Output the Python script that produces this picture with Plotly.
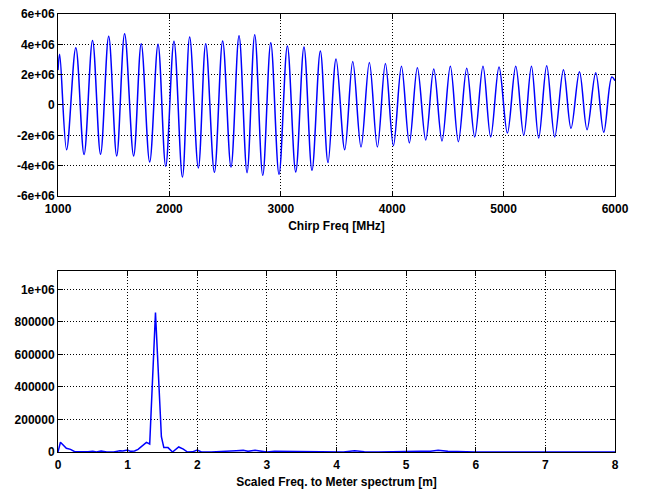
import plotly.graph_objects as go

# top panel: extrema (MHz, amplitude)
chirp_freq = [1000, 1015, 1077, 1160, 1234, 1310, 1382, 1455, 1527, 1598,
              1679, 1747, 1823, 1898, 1967, 2041, 2117, 2182, 2260, 2326,
              2404, 2478, 2553, 2625, 2697, 2766, 2838, 2910, 2984, 3059,
              3134, 3208, 3280, 3355, 3424, 3496, 3574, 3646, 3720, 3795,
              3867, 3939, 4011, 4083, 4154, 4226, 4301, 4373, 4447, 4522,
              4594, 4669, 4741, 4815, 4884, 4959, 5034, 5109, 5181, 5250,
              5315, 5387, 5459, 5537, 5605, 5681, 5749, 5827, 5899, 5971,
              6000]
chirp_amp = [2.3e6, 3.34e6, -2.95e6, 3.78e6, -3.27e6, 4.26e6, -3.25e6, 4.53e6, -3.36e6, 4.70e6,
             -3.36e6, 4.04e6, -3.76e6, 4.0e6, -4.04e6, 4.2e6, -4.75e6, 4.48e6, -4.15e6, 4.04e6,
             -4.44e6, 4.22e6, -4.09e6, 4.57e6, -4.46e6, 4.64e6, -4.64e6, 4.11e6, -4.57e6, 3.89e6,
             -4.42e6, 3.82e6, -4.31e6, 3.56e6, -3.80e6, 3.03e6, -2.95e6, 2.86e6, -2.77e6, 2.81e6,
             -2.77e6, 2.73e6, -2.68e6, 2.55e6, -2.5e6, 2.46e6, -2.31e6, 2.37e6, -2.37e6, 2.55e6,
             -2.42e6, 2.42e6, -2.11e6, 2.55e6, -2.11e6, 2.51e6, -1.85e6, 2.55e6, -2.0e6, 2.55e6,
             -2.18e6, 2.59e6, -2.11e6, 2.33e6, -1.54e6, 2.2e6, -1.63e6, 2.13e6, -1.8e6, 1.85e6,
             1.6e6]

# bottom panel: spectrum (m, magnitude)
range_m = [0, 0.035, 0.12, 0.18, 0.24, 0.34, 0.43, 0.50, 0.55, 0.62,
           0.70, 0.80, 0.89, 0.93, 1.0, 1.04, 1.10, 1.15, 1.21, 1.27,
           1.317, 1.40, 1.485, 1.52, 1.58, 1.645, 1.734, 1.80, 1.86, 1.93,
           2.0, 2.06, 2.2, 2.35, 2.47, 2.56, 2.66, 2.73, 2.83, 2.90,
           3.0, 3.11, 3.21, 3.27, 3.5, 4.1, 4.26, 4.4, 4.6, 5.0,
           5.2, 5.35, 5.46, 5.6, 5.8, 6.0, 8.0]
spectrum = [0, 60000, 23000, 16000, 2000, 0, 2000, 5000, 0, 6000,
            0, 0, 8000, 6000, 12000, 4000, 6000, 16000, 37000, 59000,
            49000, 857000, 94000, 27000, 27000, 0, 31000, 18000, 0, 1000,
            12000, 0, 0, 4000, 10000, 8000, 10000, 4000, 10000, 4000,
            0, 4000, 4000, 0, 0, 0, 8000, 2000, 0, 0,
            4000, 5000, 10000, 4000, 2000, 0, 0]

top_yticks = [-6e6, -4e6, -2e6, 0, 2e6, 4e6, 6e6]
top_ylabels = ["-6e+06", "-4e+06", "-2e+06", "0", "2e+06", "4e+06", "6e+06"]
bot_yticks = [0, 200000, 400000, 600000, 800000, 1000000]
bot_ylabels = ["0", "200000", "400000", "600000", "800000", "1e+06"]

font = dict(family="Liberation Sans, Arial, sans-serif", size=12, color="black", weight="bold")

axis_style = dict(
    showline=True, linecolor="black", linewidth=1, mirror="ticks",
    ticks="inside", ticklen=5, tickcolor="black",
    showgrid=True, gridcolor="black", griddash="1px,2px", gridwidth=1,
    zeroline=False, tickfont=font, automargin=False, ticklabeloverflow="allow",
)

fig = go.Figure()

fig.add_trace(go.Scatter(
    x=chirp_freq, y=chirp_amp, mode="lines",
    line=dict(color="#0000ff", width=1.5, shape="spline", smoothing=1.0),
    xaxis="x", yaxis="y", showlegend=False,
))

fig.add_trace(go.Scatter(
    x=range_m, y=spectrum, mode="lines",
    line=dict(color="#0000ff", width=1.5),
    xaxis="x2", yaxis="y2", showlegend=False,
))

# page body has an 8px margin, so the figure is sized to fit the window from (8, 8)
fig.update_layout(
    width=637, height=482,
    margin=dict(l=50, r=30, t=6, b=38),
    paper_bgcolor="white", plot_bgcolor="white",
    xaxis=dict(axis_style, domain=[0, 1], anchor="y", range=[1000, 6000], dtick=1000,
               ticklabelstandoff=2,
               title=dict(text="Chirp Freq [MHz]", font=font, standoff=6)),
    yaxis=dict(axis_style, domain=[0.5845, 1], anchor="x", range=[-6e6, 6e6],
               tickvals=top_yticks, ticktext=top_ylabels),
    xaxis2=dict(axis_style, domain=[0, 1], anchor="y2", range=[0, 8], dtick=1,
                ticklabelstandoff=2,
                title=dict(text="Scaled Freq. to Meter spectrum [m]", font=font, standoff=6)),
    yaxis2=dict(axis_style, domain=[0, 0.414], anchor="x2", range=[0, 1.115e6],
                tickvals=bot_yticks, ticktext=bot_ylabels),
)

fig.write_html("out.html")
